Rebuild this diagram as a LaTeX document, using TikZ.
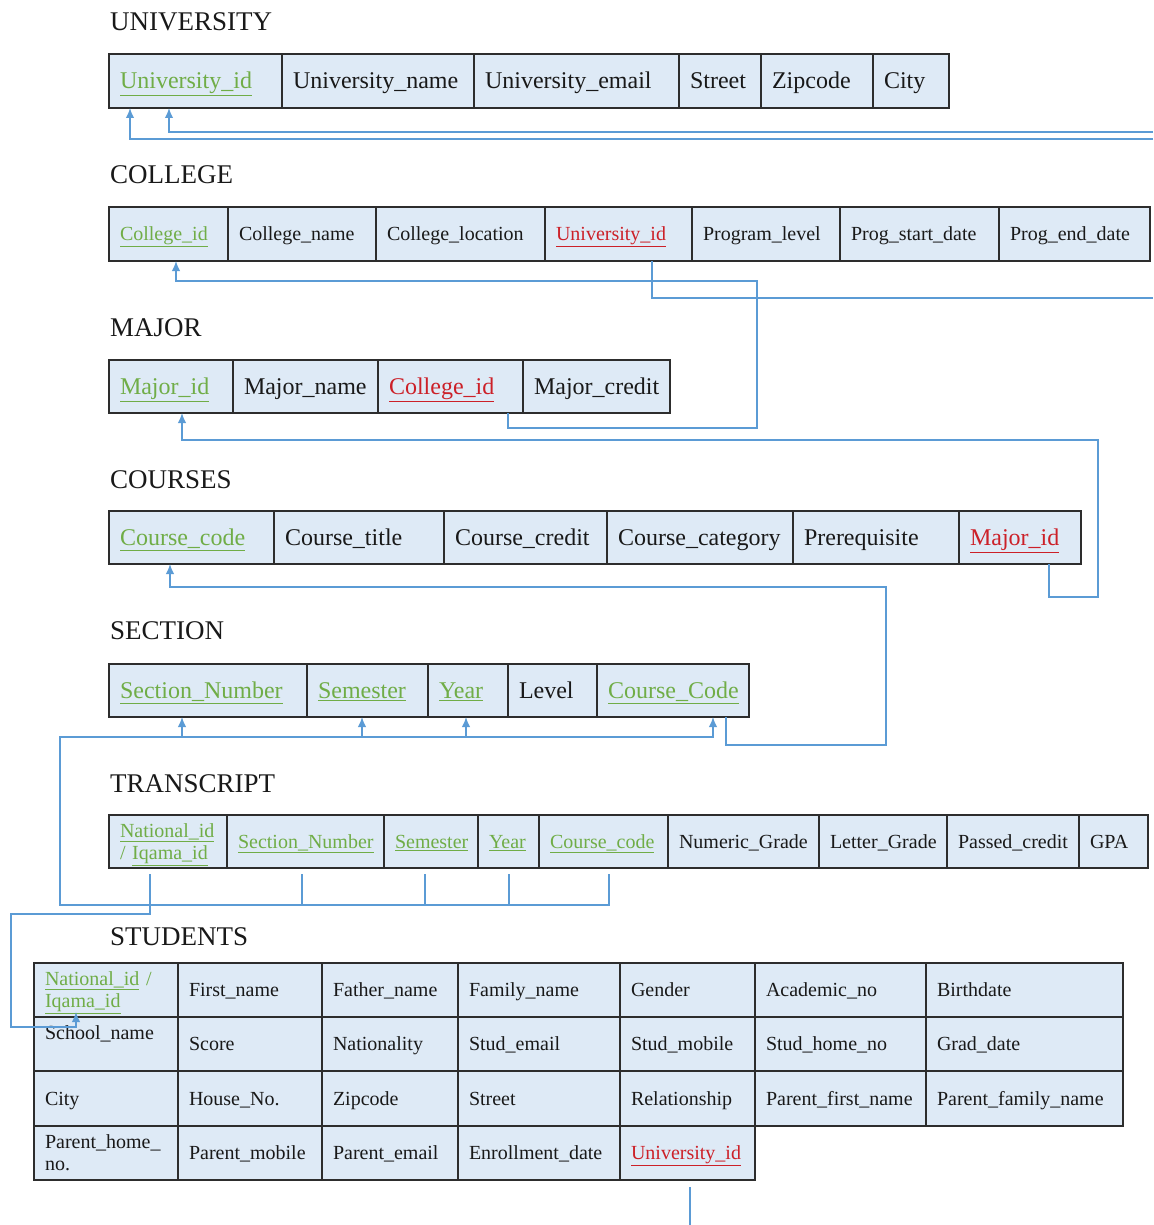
\documentclass[tikz,border=0pt]{standalone}
\usepackage{fontspec}
\setmainfont{Liberation Serif}
\usetikzlibrary{arrows.meta,calc}
\definecolor{cellfill}{RGB}{222,234,246}
\definecolor{pkgreen}{RGB}{112,173,71}
\definecolor{fkred}{RGB}{204,32,40}
\definecolor{conblue}{RGB}{91,155,213}
\definecolor{bordergray}{RGB}{45,45,45}
\definecolor{txt}{RGB}{25,25,25}
\newcommand\pk[1]{\textcolor{pkgreen}{\underline{#1}}}
\newcommand\fk[1]{\textcolor{fkred}{\underline{#1}}}
\newcommand\mycell[6]{%
  \pgfmathsetlengthmacro\mycw{(#3-#2-22)*1pt}%
  \pgfmathsetlengthmacro\mych{(#5-#4)*1pt}%
  \node[cellbox, text width=\mycw, minimum height=\mych, anchor=north west] (#1) at (#2,#4)
    {\rule{0pt}{1.0em}#6\rule[-0.34em]{0pt}{0pt}};}
\AtBeginDocument{\hyphenpenalty=10000 \exhyphenpenalty=10000 }
\tikzset{
  cellbox/.style={draw=bordergray, line width=1.6pt, fill=cellfill, inner xsep=11pt, inner ysep=1pt,
    outer sep=0pt, align=left, text=txt},
  big/.style={font=\fontsize{24}{27}\selectfont},
  small/.style={font=\fontsize{20}{22}\selectfont},
  title/.style={font=\fontsize{27}{30}\selectfont, inner sep=0pt, anchor=base west, text=txt},
  con/.style={conblue, line width=1.6pt},
  arr/.style={con, -{Latex[length=10pt,width=8.5pt]}}
}
\begin{document}
\begin{tikzpicture}[x=1pt,y=-1pt]
\useasboundingbox (0,0) rectangle (1153,1225);
% titles
\node[title] (tU) at (110,31) {UNIVERSITY};
\node[title] (tC) at (110,184) {COLLEGE};
\node[title] (tM) at (110,336) {MAJOR};
\node[title] (tK) at (110,488) {COURSES};
\node[title] (tS) at (110,639) {SECTION};
\node[title] (tT) at (110,792) {TRANSCRIPT};
\node[title] (tSt) at (110,945) {STUDENTS};
% UNIVERSITY
\begin{scope}[every node/.append style={big}]
\mycell{u1}{109}{282}{54}{108}{\pk{University\_id}}
\mycell{u2}{282}{474}{54}{108}{University\_name}
\mycell{u3}{474}{679}{54}{108}{University\_email}
\mycell{u4}{679}{761}{54}{108}{Street}
\mycell{u5}{761}{873}{54}{108}{Zipcode}
\mycell{u6}{873}{949}{54}{108}{City}
\end{scope}
% COLLEGE
\begin{scope}[every node/.append style={small}]
\mycell{c1}{109}{228}{207}{261}{\pk{College\_id}}
\mycell{c2}{228}{376}{207}{261}{College\_name}
\mycell{c3}{376}{545}{207}{261}{College\_location}
\mycell{c4}{545}{692}{207}{261}{\fk{University\_id}}
\mycell{c5}{692}{840}{207}{261}{Program\_level}
\mycell{c6}{840}{999}{207}{261}{Prog\_start\_date}
\mycell{c7}{999}{1150}{207}{261}{Prog\_end\_date}
\end{scope}
% MAJOR
\begin{scope}[every node/.append style={big}]
\mycell{m1}{109}{233}{360}{413}{\pk{Major\_id}}
\mycell{m2}{233}{378}{360}{413}{Major\_name}
\mycell{m3}{378}{523}{360}{413}{\fk{College\_id}}
\mycell{m4}{523}{670}{360}{413}{Major\_credit}
% COURSES
\mycell{k1}{109}{274}{511}{564}{\pk{Course\_code}}
\mycell{k2}{274}{444}{511}{564}{Course\_title}
\mycell{k3}{444}{607}{511}{564}{Course\_credit}
\mycell{k4}{607}{793}{511}{564}{Course\_category}
\mycell{k5}{793}{959}{511}{564}{Prerequisite}
\mycell{k6}{959}{1081}{511}{564}{\fk{Major\_id}}
% SECTION
\mycell{s1}{109}{307}{664}{717}{\pk{Section\_Number}}
\mycell{s2}{307}{428}{664}{717}{\pk{Semester}}
\mycell{s3}{428}{508}{664}{717}{\pk{Year}}
\mycell{s4}{508}{597}{664}{717}{Level}
\mycell{s5}{597}{749}{664}{717}{\pk{Course\_Code}}
\end{scope}
% TRANSCRIPT
\begin{scope}[every node/.append style={small}]
\mycell{t1}{109}{227}{815}{868}{\pk{National\_id}\\{\color{pkgreen}/} \pk{Iqama\_id}}
\mycell{t2}{227}{384}{815}{868}{\pk{Section\_Number}}
\mycell{t3}{384}{478}{815}{868}{\pk{Semester}}
\mycell{t4}{478}{539}{815}{868}{\pk{Year}}
\mycell{t5}{539}{668}{815}{868}{\pk{Course\_code}}
\mycell{t6}{668}{819}{815}{868}{Numeric\_Grade}
\mycell{t7}{819}{947}{815}{868}{Letter\_Grade}
\mycell{t8}{947}{1079}{815}{868}{Passed\_credit}
\mycell{t9}{1079}{1148}{815}{868}{GPA}
% STUDENTS
\mycell{st11}{34}{178}{963}{1017}{\pk{National\_id} {\color{pkgreen}/}\\\pk{Iqama\_id}}
\mycell{st12}{178}{322}{963}{1017}{First\_name}
\mycell{st13}{322}{458}{963}{1017}{Father\_name}
\mycell{st14}{458}{620}{963}{1017}{Family\_name}
\mycell{st15}{620}{755}{963}{1017}{Gender}
\mycell{st16}{755}{926}{963}{1017}{Academic\_no}
\mycell{st17}{926}{1123}{963}{1017}{Birthdate}
\mycell{st21}{34}{178}{1017}{1071}{School\_name\\\mbox{}}
\mycell{st22}{178}{322}{1017}{1071}{Score}
\mycell{st23}{322}{458}{1017}{1071}{Nationality}
\mycell{st24}{458}{620}{1017}{1071}{Stud\_email}
\mycell{st25}{620}{755}{1017}{1071}{Stud\_mobile}
\mycell{st26}{755}{926}{1017}{1071}{Stud\_home\_no}
\mycell{st27}{926}{1123}{1017}{1071}{Grad\_date}
\mycell{st31}{34}{178}{1071}{1126}{City}
\mycell{st32}{178}{322}{1071}{1126}{House\_No.}
\mycell{st33}{322}{458}{1071}{1126}{Zipcode}
\mycell{st34}{458}{620}{1071}{1126}{Street}
\mycell{st35}{620}{755}{1071}{1126}{Relationship}
\mycell{st36}{755}{926}{1071}{1126}{Parent\_first\_name}
\mycell{st37}{926}{1123}{1071}{1126}{Parent\_family\_name}
\mycell{st41}{34}{178}{1126}{1180}{Parent\_home\_\\no.}
\mycell{st42}{178}{322}{1126}{1180}{Parent\_mobile}
\mycell{st43}{322}{458}{1126}{1180}{Parent\_email}
\mycell{st44}{458}{620}{1126}{1180}{Enrollment\_date}
\mycell{st45}{620}{755}{1126}{1180}{\fk{University\_id}}
\end{scope}
% ---------- connectors ----------
\coordinate (eU1) at (1153,139);
\coordinate (eU2) at (1153,132);
\coordinate (eC) at (1153,298);
\coordinate (j1) at (757,428);
\coordinate (j2) at (757,281);
\coordinate (j3) at (1098,597);
\coordinate (j4) at (1098,440);
\coordinate (j5) at (886,745);
\coordinate (j6) at (886,587);
\coordinate (bL) at (60,905);
\coordinate (bT) at (60,737);
\coordinate (sL) at (11,914);
\coordinate (sB) at (76,1027);
\coordinate (eS) at (690,1225);
% to UNIVERSITY
\draw[arr] (eU1) -| ([xshift=21pt]u1.south west);
\draw[arr] (eU2) -| ([xshift=60pt]u1.south west);
% COLLEGE.University_id
\draw[con] ([xshift=107pt]c4.south west) |- (eC);
% MAJOR.College_id -> COLLEGE.College_id
\draw[arr] ([xshift=130pt]m3.south west) |- (j1) -- (j2) -| ([xshift=67pt]c1.south west);
% COURSES.Major_id -> MAJOR.Major_id
\draw[arr] ([xshift=90pt]k6.south west) |- (j3) -- (j4) -| ([xshift=73pt]m1.south west);
% SECTION.Course_Code -> COURSES.Course_code
\draw[arr] ([xshift=129pt]s5.south west) |- (j5) -- (j6) -| ([xshift=61pt]k1.south west);
% TRANSCRIPT -> SECTION
\draw[arr] ([xshift=70pt,yshift=-6pt]t5.south west) |- (bL) -- (bT) -| ([xshift=116pt]s5.south west);
\draw[con] ([xshift=75pt,yshift=-6pt]t2.south west) -- ++(0,31);
\draw[con] ([xshift=41pt,yshift=-6pt]t3.south west) -- ++(0,31);
\draw[con] ([xshift=31pt,yshift=-6pt]t4.south west) -- ++(0,31);
\draw[arr] ([xshift=73pt]s1.south west |- bT) -- ([xshift=73pt]s1.south west);
\draw[arr] ([xshift=55pt]s2.south west |- bT) -- ([xshift=55pt]s2.south west);
\draw[arr] ([xshift=38pt]s3.south west |- bT) -- ([xshift=38pt]s3.south west);
% TRANSCRIPT.National_id -> STUDENTS.National_id
\draw[arr] ([xshift=41pt,yshift=-6pt]t1.south west) |- (sL) |- (sB) -- ([xshift=42pt,yshift=5pt]st11.south west);
% STUDENTS.University_id
\draw[con] ([xshift=70pt,yshift=-7pt]st45.south west) -- (eS);
\end{tikzpicture}
\end{document}
